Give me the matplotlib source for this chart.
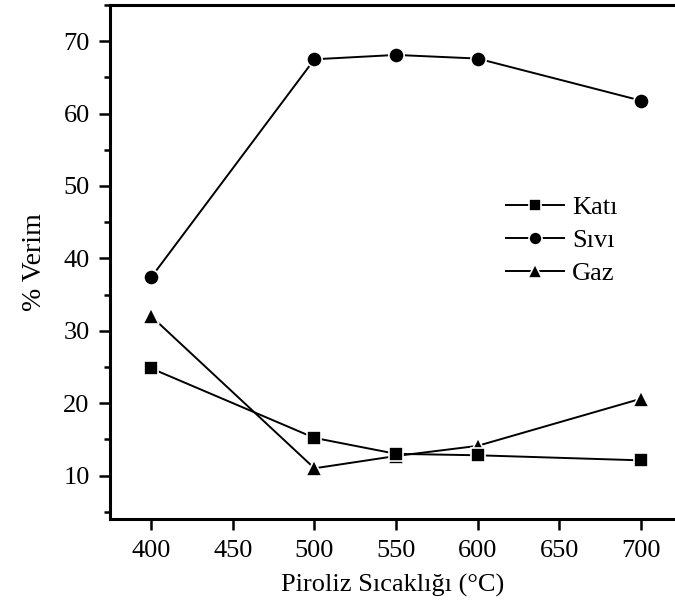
import matplotlib
matplotlib.use("Agg")
import matplotlib.pyplot as plt
from matplotlib.ticker import MultipleLocator

# Pyrolysis yields by temperature
temperatures = [400, 500, 550, 600, 700]
kati = [24.8, 15.2, 13.0, 12.8, 12.1]
sivi = [37.4, 67.5, 68.1, 67.6, 61.8]
gaz = [32.0, 11.0, 12.7, 14.1, 20.6]

series_labels = ["Katı", "Sıvı", "Gaz"]
x_ticks = [400, 450, 500, 550, 600, 650, 700]
y_ticks = [10, 20, 30, 40, 50, 60, 70]

plt.rcParams["font.family"] = ["Liberation Serif", "DejaVu Serif"]

fig = plt.figure(figsize=(6.75, 6.07), dpi=100)
ax = fig.add_axes([0.1637, 0.145, 0.8363, 0.8468])

common = dict(color="black", linewidth=1.4, markeredgecolor="white",
              markeredgewidth=1.2)
ax.plot(temperatures, gaz, marker="^", markersize=11.5, label=series_labels[2], zorder=3, **common)
ax.plot(temperatures, kati, marker="s", markersize=9.5, label=series_labels[0], zorder=4, **common)
ax.plot(temperatures, sivi, marker="o", markersize=11, label=series_labels[1], zorder=4, **common)

ax.set_xlim(375, 721)
ax.set_ylim(4, 75)
ax.set_xticks(x_ticks)
ax.set_yticks(y_ticks)
ax.yaxis.set_minor_locator(MultipleLocator(5))

for side in ("left", "bottom", "top"):
    ax.spines[side].set_linewidth(2.2)
ax.spines["right"].set_visible(False)

ax.tick_params(axis="both", which="major", direction="out", length=8, width=1.8,
               labelsize=19, pad=7)
ax.tick_params(axis="y", which="minor", direction="out", length=4, width=1.8)
ax.tick_params(top=False, right=False)

ax.set_xlabel("Piroliz Sıcaklığı (°C)", fontsize=19, labelpad=9)
ax.set_ylabel("% Verim", fontsize=20, labelpad=12)

handles, labels = ax.get_legend_handles_labels()
order = [1, 2, 0]
ax.legend([handles[i] for i in order], [labels[i] for i in order],
          loc="upper left", bbox_to_anchor=(0.722, 0.708),
          bbox_transform=fig.transFigure, frameon=False, fontsize=19,
          handlelength=2.2, handletextpad=0.3, labelspacing=0.36, numpoints=1,
          borderpad=0.2, markerscale=0.85)

fig.savefig("out.png", dpi=100)
